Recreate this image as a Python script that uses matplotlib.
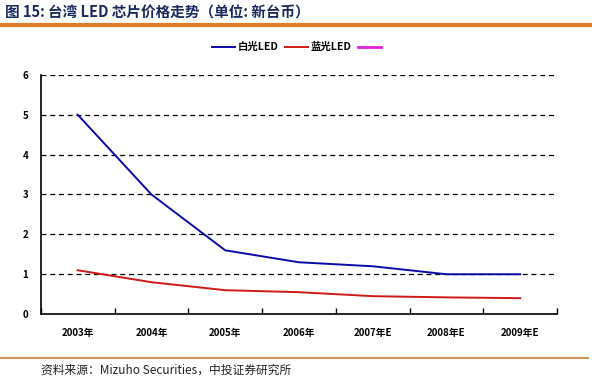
import numpy as np
import matplotlib
matplotlib.use("Agg")
import matplotlib.pyplot as plt
from matplotlib.lines import Line2D

plt.rcParams['font.family'] = ['Noto Sans CJK SC', 'DejaVu Sans']

years = ["2003年", "2004年", "2005年", "2006年", "2007年E", "2008年E", "2009年E"]
white_led = [5.0, 3.0, 1.6, 1.3, 1.2, 1.0, 1.0]
blue_led = [1.1, 0.8, 0.6, 0.55, 0.45, 0.42, 0.4]

fig = plt.figure(figsize=(5.92, 3.84), dpi=100)

# title and rules
fig.text(0.008, 0.968, "图 15: 台湾 LED 芯片价格走势（单位: 新台币）", fontsize=10.5,
         fontweight='bold', color='#1a2a5e', va='center')
fig.add_artist(Line2D([0, 0.997], [0.935, 0.935], color='#e07b2a', lw=3))
fig.add_artist(Line2D([0, 0.993], [0.068, 0.068], color='#c8955a', lw=1.5))
fig.text(0.07, 0.036, "资料来源：Mizuho Securities，中投证券研究所", fontsize=8.5,
         color='#222222', va='center')

ax = fig.add_axes([0.069, 0.182, 0.872, 0.623])
x = np.arange(len(years))
ax.plot(x, white_led, color='#0a0aa8', lw=1.4, label="白光LED")
ax.plot(x, blue_led, color='#d01818', lw=1.4, label="蓝光LED")
ax.plot([], [], color='#e020e0', lw=2, label=" ")

ax.set_xlim(-0.5, len(years) - 0.5)
ax.set_ylim(0, 6)
ax.set_yticks(range(7))
ax.set_xticks(x)
ax.set_xticklabels(years, fontsize=7, fontweight='bold')
ax.set_xticks(np.arange(-0.5, len(years)), minor=True)
ax.tick_params(axis='x', which='major', length=0, pad=10)
ax.tick_params(axis='x', which='minor', direction='in', length=4, width=1)
ax.tick_params(axis='y', length=0, labelsize=7, pad=9)
for t in ax.get_yticklabels():
    t.set_fontweight('bold')

for v in range(1, 7):
    ax.axhline(v, color='black', lw=0.9, ls=(0, (4, 3)), zorder=0)

ax.spines['top'].set_visible(False)
ax.spines['right'].set_visible(False)
ax.spines['left'].set_linewidth(1.2)
ax.spines['bottom'].set_linewidth(1.2)

ax.legend(loc='center', bbox_to_anchor=(0.5, 1.115), ncol=3, frameon=False,
          handlelength=2.2, handletextpad=0.3, columnspacing=0.6,
          prop={'weight': 'bold', 'size': 7.5})

fig.savefig("out.png", dpi=100)
